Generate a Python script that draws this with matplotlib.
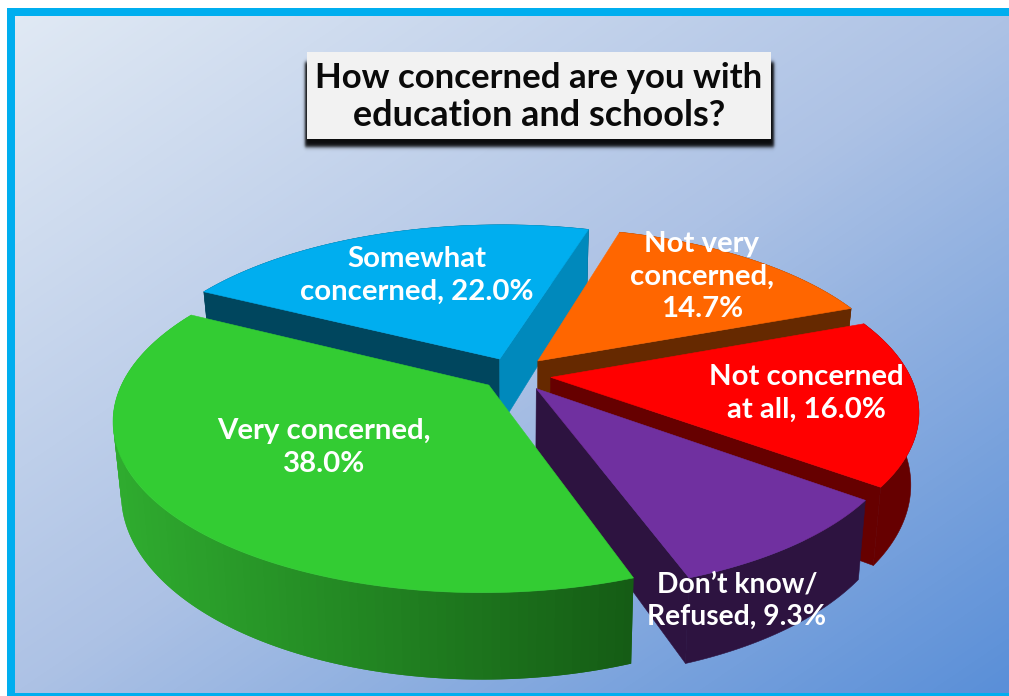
import numpy as np
import matplotlib
matplotlib.use("Agg")
import matplotlib.pyplot as plt
from matplotlib.patches import Polygon, Rectangle
from matplotlib.colors import LinearSegmentedColormap, to_rgb

# ---- data ----
categories = ["Not very concerned", "Not concerned at all", "Don't know/Refused",
              "Very concerned", "Somewhat concerned"]
values = [14.7, 16.0, 9.3, 38.0, 22.0]
label_lines = [
    ["Not very", "concerned,", "14.7%"],
    ["Not concerned", "at all, 16.0%"],
    ["Don\u2019t know/", "Refused, 9.3%"],
    ["Very concerned,", "38.0%"],
    ["Somewhat", "concerned, 22.0%"],
]
title_lines = ["How concerned are you with", "education and schools?"]

# ---- style ----
top_colors = ["#FF6600", "#FF0000", "#7030A0", "#33CC33", "#00AEEF"]
start_face = ["#662900", "#660000", "#2D1340", "#146214", "#00465E"]
end_face = ["#662900", "#660000", "#2D1340", "#146214", "#0089BC"]
rim_left = ["#662900", "#660000", "#2D1340", "#2FAC2F", "#00465E"]
rim_right = ["#662900", "#660000", "#2D1340", "#145A14", "#00465E"]
radius = [0.985, 0.97, 0.96, 0.98, 1.0]
nudge = [(-1, -2), (0, 0), (0, 0), (3, -1), (0, -1)]
label_size = [21.2, 21.2, 20.3, 21.2, 21.2]
explode = 0.10
draw_order = [4, 0, 1, 2, 3]
start_angle = -73.6
label_pos = [(702, 244, 32.5), (806.5, 377, 32.5), (737, 584, 32.5), (324, 431, 32.5), (417, 259, 32.5)]

CX, CY, RX, RY, K, DEPTH, BX = 514, 375, 370, 166, 0.197, 69, 0.98
W, H = 1009, 696


def project(X, Y, bottom=False, shift=(0, 0)):
    X, Y = np.asarray(X, float), np.asarray(Y, float)
    w = 1 - K * Y
    sx = CX + RX * X / w
    sy = CY + RY * Y / w
    if bottom:
        sx = CX + (sx - CX) * BX
        sy = sy + DEPTH / w
    return sx + shift[0], sy + shift[1]


def quad(ax, xs, ys, color, z, lw=0.4):
    ax.add_patch(Polygon(np.column_stack([xs, ys]), closed=True, facecolor=color,
                         edgecolor=color if lw else "none", linewidth=lw, zorder=z))


fig = plt.figure(figsize=(W / 100, H / 100), dpi=100, facecolor="white")
ax = fig.add_axes([0, 0, 1, 1])

# background gradient
cmap = LinearSegmentedColormap.from_list("bg", [(0, "#E0E9F4"), (0.5, "#ADC2E5"), (1, "#5A8FD8")])
xx, yy = np.meshgrid(np.linspace(0, 1, 300), np.linspace(0, 1, 200))
ax.imshow((xx + yy) / 2, extent=(15, W, 693, 16), cmap=cmap, vmin=0, vmax=1,
          aspect="auto", interpolation="bilinear", zorder=0)

# border
cy = "#00AEEF"
ax.add_patch(Rectangle((7, 8), W - 7, 8, facecolor=cy, edgecolor="none", zorder=1))
ax.add_patch(Rectangle((7, 8), 8, H - 8, facecolor=cy, edgecolor="none", zorder=1))
ax.add_patch(Rectangle((7, 693), W - 7, 3, facecolor=cy, edgecolor="none", zorder=1))

# pie
vals = np.asarray(values)
edges = start_angle + np.concatenate([[0], np.cumsum(vals)]) * 360 / vals.sum()
z = 2.0
for i in draw_order:
    a0, a1 = np.radians(edges[i]), np.radians(edges[i + 1])
    mid = (a0 + a1) / 2
    ox, oy = explode * np.cos(mid), explode * np.sin(mid)
    r = radius[i]
    ang = np.linspace(a0, a1, 120)
    X, Y = ox + r * np.cos(ang), oy + r * np.sin(ang)
    tx, ty = project(X, Y, False, nudge[i])
    bx, by = project(X, Y, True, nudge[i])
    apx, apy = project(ox, oy, False, nudge[i])
    abx, aby = project(ox, oy, True, nudge[i])
    # outer wall
    if rim_left[i] == rim_right[i]:
        quad(ax, np.r_[tx, bx[::-1]], np.r_[ty, by[::-1]], rim_left[i], z)
    else:
        cl, cr = np.array(to_rgb(rim_left[i])), np.array(to_rgb(rim_right[i]))
        fr = (tx - 113) / (640 - 113)
        n = len(ang)
        for j in range(n - 1, 0, -1):
            c = cl + (cr - cl) * np.clip(fr[j], 0, 1)
            k = max(j - 2, 0)
            quad(ax, [tx[k], tx[j], bx[j], bx[k]], [ty[k], ty[j], by[j], by[k]], tuple(c), z, 0)
    z += 0.01
    # cut faces that face the viewer
    if -np.cos(a0) > 0:
        quad(ax, [apx, tx[0], bx[0], abx], [apy, ty[0], by[0], aby], start_face[i], z)
    if np.cos(a1) > 0:
        quad(ax, [apx, tx[-1], bx[-1], abx], [apy, ty[-1], by[-1], aby], end_face[i], z)
    z += 0.01
    # top
    quad(ax, np.r_[apx, tx], np.r_[apy, ty], top_colors[i], z)
    z += 0.01

# labels
for lines, (lx, ly, step), fs in zip(label_lines, label_pos, label_size):
    for n, s in enumerate(lines):
        ax.text(lx, ly + n * step, s, color="white", ha="center", va="center", fontsize=fs,
                family="Lato", fontweight="bold", zorder=10)

# title box with soft shadow
sx = np.arange(295, 785) + 0.5
sy = np.arange(50, 160) + 0.5
edge = lambda v, a, b, s: 0.5 * (np.tanh((v - a) / s) - np.tanh((v - b) / s))
cover = np.outer(edge(sy, 62, 147, 2.2), edge(sx, 305, 774, 1.6))
shadow = np.zeros(cover.shape + (4,))
shadow[..., 3] = 0.95 * cover
ax.imshow(shadow, extent=(295, 785, 160, 50), aspect="auto", interpolation="bilinear", zorder=11)
ax.add_patch(Rectangle((307, 52), 464, 87, facecolor="#F2F2F2", edgecolor="none", zorder=12))
for i, s in enumerate(title_lines):
    ax.text(539, 78 + i * 38, s, color="#0A0A0A", ha="center", va="center", fontsize=25 + i * 0.9,
            family="Lato", fontweight="bold", zorder=13)

ax.set_xlim(0, W)
ax.set_ylim(H, 0)
ax.axis("off")
fig.savefig("out.png", dpi=100)
